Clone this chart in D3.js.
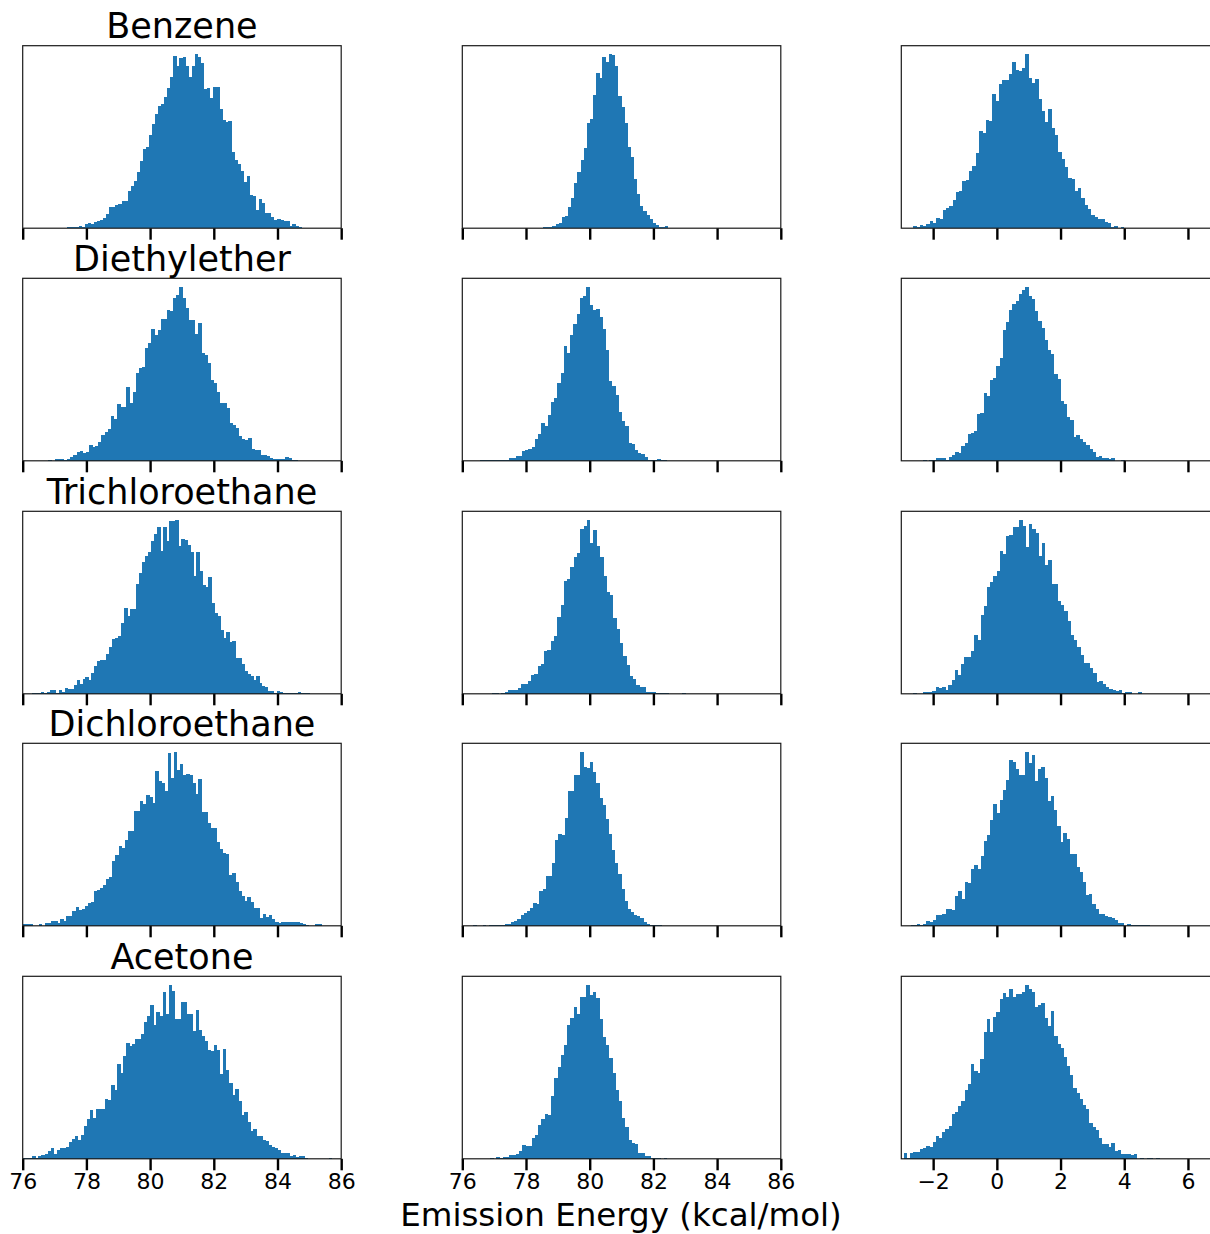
<!DOCTYPE html>
<html>
<head>
<meta charset="utf-8">
<script src="https://cdn.jsdelivr.net/npm/d3@7"></script>
<style>
  html, body { margin: 0; padding: 0; background: #fff; overflow: hidden; }
  svg { display: block; font-family: "DejaVu Sans", sans-serif; }
</style>
</head>
<body>
<svg id="chart" width="1210" height="1234"></svg>
<script>
// Solvents, one per row of the grid
const solvents = ["Benzene", "Diethylether", "Trichloroethane", "Dichloroethane", "Acetone"];

// Tick values for the two energy columns and for the shift column
const energyTicks = [76, 78, 80, 82, 84, 86];
const shiftTicks = [-2, 0, 2, 4, 6];
const energyDomain = [76, 86];
const shiftDomain = [-3, 7];

// Histogram counts per bin; each histogram's bins evenly split its [lo, hi] range
const benzene1 = [3,3,3,4,7,5,12,16,13,20,23,26,31,42,64,64,69,72,81,82,111,127,142,169,202,238,244,280,315,345,369,373,396,421,454,517,487,511,514,488,454,488,523,515,498,419,421,392,424,424,360,325,320,322,229,204,192,171,139,157,99,98,55,88,75,47,47,34,25,28,26,21,21,7,12,7,3,2,1,1,1,1,0,0,0,1,1];
const benzene1Range = [77.38, 85.71];
const benzene2 = [1,1,3,3,3,6,12,16,33,36,64,90,135,168,205,241,318,330,402,466,451,514,499,523,520,489,397,366,316,244,214,148,103,67,52,40,28,16,9,3,3,6];
const benzene2Range = [78.34, 82.46];
const benzene3 = [6,3,9,6,12,21,15,30,27,54,60,66,84,108,111,141,144,171,186,225,291,285,327,324,405,384,435,447,447,465,501,477,474,483,523,453,438,450,390,354,321,360,303,279,228,207,183,150,148,113,120,90,70,57,39,33,27,27,18,15,3,6,0,3,1,1,1,0,0,1];
const benzene3Range = [-2.63, 4.61];

const diethylether1 = [3,0,6,6,6,3,6,10,18,25,30,23,25,48,43,45,57,79,87,96,135,127,171,163,163,222,173,206,263,279,281,339,355,398,378,393,428,428,455,450,491,498,523,491,460,423,425,383,416,325,318,295,243,234,208,175,173,158,113,108,100,75,65,63,68,35,32,31,18,16,13,8,6,6,5,4,10,8,3,2];
const diethylether1Range = [76.81, 84.64];
const diethylether2 = [1,1,1,1,1,1,3,3,3,8,8,15,15,30,33,36,42,66,81,114,105,138,177,189,234,264,345,324,378,411,441,489,495,522,468,453,456,432,396,333,240,225,198,147,120,105,54,51,33,24,21,12,3,3,3,6,1,1];
const diethylether2Range = [76.56, 82.42];
const diethylether3 = [0,3,0,3,3,9,9,9,3,12,18,27,24,45,54,81,83,90,141,144,204,195,243,249,285,309,393,417,453,471,480,501,513,522,495,486,450,420,398,363,333,321,261,246,180,171,132,123,72,78,66,57,48,36,27,12,15,9,9,6,9,0,0,3];
const diethylether3Range = [-2.42, 4.0];

const trichloroethane1 = [1,1,1,4,2,6,10,10,2,10,4,17,14,14,26,41,29,44,50,41,62,83,98,101,101,121,140,165,167,173,212,260,236,257,257,332,365,398,416,428,461,482,503,431,503,461,521,521,524,446,468,465,449,427,356,427,370,329,323,353,275,245,236,191,167,185,155,158,107,107,91,68,59,53,41,53,32,23,20,9,7,2,8,6,2,1,1,1,1,4,1,1,1];
const trichloroethane1Range = [76.28, 85.02];
const trichloroethane2 = [3,3,0,3,6,10,10,10,16,29,29,39,56,59,85,89,128,131,158,175,232,269,341,347,383,411,425,498,506,524,455,493,446,411,355,308,299,230,194,152,113,86,53,44,26,19,21,6,5,5,2,2,2,2,0,0,0,0,2];
const trichloroethane2Range = [76.92, 83.0];
const trichloroethane3 = [2,0,0,4,4,4,9,22,18,20,11,28,41,71,58,89,110,110,128,176,161,239,266,323,338,356,371,431,422,476,479,503,503,524,506,443,512,496,485,416,455,389,404,332,332,281,269,251,218,176,161,140,116,92,92,77,62,35,38,29,20,14,11,8,11,2,4,4,0,0,4];
const trichloroethane3Range = [-2.63, 4.53];

const dichloroethane1 = [4,4,4,0,0,4,0,7,7,13,13,7,20,13,29,29,44,56,48,50,59,68,71,104,107,113,122,140,146,194,212,242,236,260,287,287,347,347,377,368,395,389,371,467,437,431,407,521,446,524,470,488,455,458,455,431,398,443,344,344,311,296,296,254,233,218,215,152,158,131,104,89,74,86,71,53,53,23,35,26,32,20,11,8,11,11,11,11,10,10,9,4,1,0,0,4,4];
const dichloroethane1Range = [76.02, 85.37];
const dichloroethane2 = [1,0,0,1,0,1,1,1,3,3,6,6,12,16,21,32,38,44,53,68,65,104,110,149,149,191,260,278,275,326,407,407,455,455,525,479,476,494,464,431,386,365,323,278,230,191,155,110,74,50,41,32,29,23,11,6,3,3,1,1];
const dichloroethane2Range = [76.35, 82.27];
const dichloroethane3 = [3,3,6,3,6,15,12,18,33,33,36,51,51,48,90,105,81,132,130,171,184,172,211,255,274,318,366,340,379,409,439,499,495,474,456,454,524,492,516,436,472,478,447,376,390,349,301,253,280,262,216,217,178,163,133,94,97,66,52,36,36,30,27,24,18,9,9,0,6,1,1,1,1,1,1];
const dichloroethane3Range = [-2.71, 4.79];

const acetone1 = [2,2,2,8,2,8,11,15,23,32,15,26,32,32,35,50,59,68,56,71,98,119,146,122,149,149,149,179,176,221,206,284,257,308,347,338,344,359,359,374,410,428,461,401,440,428,500,434,521,503,419,419,470,470,434,434,383,446,386,368,353,326,323,341,326,254,329,266,227,191,209,173,131,140,110,83,89,68,68,56,53,41,35,32,26,17,17,17,8,11,5,8,8,1,0,0,0,0,0,0,0,2];
const acetone1Range = [76.02, 85.71];
const acetone2 = [3,0,6,3,6,6,12,12,15,24,42,39,39,63,72,102,120,135,132,189,243,276,312,342,402,423,456,435,486,486,522,492,501,483,420,366,342,303,258,207,174,123,96,57,48,45,18,18,9,9,3,3,3,0,3];
const acetone2Range = [76.87, 82.42];
const acetone3 = [18,3,18,21,21,30,33,39,36,51,69,63,81,90,99,135,141,159,174,207,225,285,264,258,300,381,420,381,426,441,480,498,486,510,486,495,495,501,522,510,501,456,462,468,423,399,444,369,345,333,306,279,252,213,198,180,162,150,108,96,87,63,45,45,36,48,24,27,15,15,15,12,15,0,3,0,3,1,0,1];
const acetone3Range = [-2.92, 5.1];

const xLabel = "Emission Energy (kcal/mol)";

// Grid of [counts, binRange] per row (solvent) and column
const grid = [
  [[benzene1, benzene1Range], [benzene2, benzene2Range], [benzene3, benzene3Range]],
  [[diethylether1, diethylether1Range], [diethylether2, diethylether2Range], [diethylether3, diethylether3Range]],
  [[trichloroethane1, trichloroethane1Range], [trichloroethane2, trichloroethane2Range], [trichloroethane3, trichloroethane3Range]],
  [[dichloroethane1, dichloroethane1Range], [dichloroethane2, dichloroethane2Range], [dichloroethane3, dichloroethane3Range]],
  [[acetone1, acetone1Range], [acetone2, acetone2Range], [acetone3, acetone3Range]]
];

// Layout of the panels
const colX = [22.7, 462.3, 901.3];
const panelW = 318.5;
const rowY = [45.7, 278.3, 511.3, 743.3, 976.3];
const panelH = 182.5;
const barColor = "#1f77b4";

const svg = d3.select("#chart");

grid.forEach((row, r) => {
  row.forEach(([counts, [lo, hi]], c) => {
    const x = d3.scaleLinear()
      .domain(c < 2 ? energyDomain : shiftDomain)
      .range([colX[c], colX[c] + panelW]);
    const y = d3.scaleLinear()
      .domain([0, d3.max(counts) * 1.05])
      .range([rowY[r] + panelH, rowY[r]]);
    const binW = (hi - lo) / counts.length;

    const g = svg.append("g").attr("shape-rendering", "crispEdges");
    g.selectAll("rect")
      .data(counts)
      .join("rect")
      .attr("x", (d, i) => x(lo + i * binW))
      .attr("width", (d, i) => x(lo + (i + 1) * binW) - x(lo + i * binW) + 0.4)
      .attr("y", d => y(d))
      .attr("height", d => y(0) - y(d))
      .attr("fill", barColor);

    // bottom axis: ticks everywhere, labels on the last row only
    const axis = d3.axisBottom(x)
      .tickValues(c < 2 ? energyTicks : shiftTicks)
      .tickSize(11.5)
      .tickPadding(3.5)
      .tickSizeOuter(0);
    if (r < grid.length - 1) axis.tickFormat("");
    const ag = svg.append("g")
      .attr("transform", `translate(0,${rowY[r] + panelH})`)
      .call(axis);
    ag.select(".domain").remove();
    ag.selectAll(".tick line").attr("stroke", "#000").attr("stroke-width", 2.4);
    ag.selectAll(".tick text")
      .attr("fill", "#000")
      .attr("font-size", 22)
      .attr("font-family", "DejaVu Sans");

    // frame of the panel
    svg.append("rect")
      .attr("x", colX[c])
      .attr("y", rowY[r])
      .attr("width", panelW)
      .attr("height", panelH)
      .attr("fill", "none")
      .attr("stroke", "#1a1a1a")
      .attr("stroke-width", 1.2);
  });

  // solvent title above the first column
  svg.append("text")
    .attr("x", colX[0] + panelW / 2)
    .attr("y", rowY[r] - 7.4)
    .attr("text-anchor", "middle")
    .attr("font-size", 35)
    .attr("fill", "#000")
    .text(solvents[r]);
});

svg.append("text")
  .attr("x", 621)
  .attr("y", 1225.5)
  .attr("text-anchor", "middle")
  .attr("font-size", 32.5)
  .attr("fill", "#000")
  .text(xLabel);
</script>
</body>
</html>
